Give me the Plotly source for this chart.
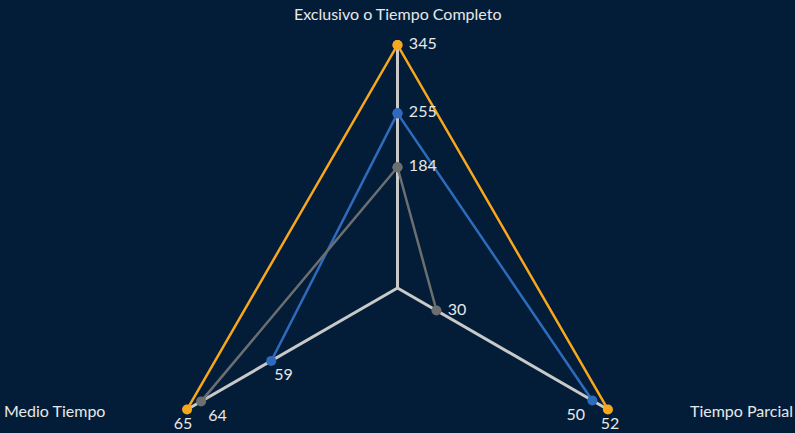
import plotly.graph_objects as go

# Axis categories (top, bottom-right, bottom-left)
categorias = ["Exclusivo o Tiempo Completo", "Tiempo Parcial", "Medio Tiempo"]
angulos = [90, -30, 210]

# Per-axis scale (each spoke has its own range)
eje_min = [25, 25, 50]
eje_max = [345, 52, 65]

# Series values in the same category order
serie_naranja = [345, 52, 65]
serie_azul = [255, 50, 59]
serie_gris = [184, 30, 64]

BG = "#031d39"
TXT = "#e8e8e8"
FONT = "Lato"
NB = "\u00a0"


def normalizar(valores):
    return [(v - lo) / (hi - lo) for v, lo, hi in zip(valores, eje_min, eje_max)]


def cerrar(lst):
    return list(lst) + [lst[0]]


# label placement per point: (textposition, leading pad, trailing pad)
series = [
    (serie_naranja, "#f8a71c",
     [("middle right", 1, 0), ("bottom center", 1, 0), ("bottom center", 0, 2)]),
    (serie_azul, "#2f6bbd",
     [("middle right", 1, 0), ("bottom left", 0, 0), ("bottom center", 6, 0)]),
    (serie_gris, "#6d6e70",
     [("middle right", 1, 0), ("middle right", 1, 0), ("bottom right", 0, 0)]),
]

fig = go.Figure()

for valores, color, colocacion in series:
    etiquetas = [NB * pre + str(v) + NB * post
                 for v, (_, pre, post) in zip(valores, colocacion)]
    posiciones = [p for p, _, _ in colocacion]
    fig.add_trace(go.Scatterpolar(
        r=cerrar(normalizar(valores)),
        theta=cerrar(angulos),
        mode="lines+markers+text",
        text=etiquetas + [""],
        textposition=posiciones + ["middle right"],
        textfont=dict(family=FONT, size=16, color=TXT),
        line=dict(color=color, width=2.5),
        marker=dict(color=color, size=10),
        cliponaxis=False,
        showlegend=False,
        hoverinfo="skip",
    ))

fig.update_layout(
    width=795,
    height=433,
    paper_bgcolor=BG,
    plot_bgcolor=BG,
    margin=dict(l=0, r=0, t=0, b=0),
    font=dict(family=FONT, color=TXT, size=16),
    polar=dict(
        bgcolor=BG,
        sector=[-30, 210],
        domain=dict(x=[0, 1], y=[(433 - 409.5) / 433, (433 - 45) / 433]),
        radialaxis=dict(range=[0, 1], visible=False, showgrid=False),
        angularaxis=dict(
            tickmode="array",
            tickvals=angulos,
            showticklabels=False,
            ticks="",
            showline=False,
            showgrid=True,
            gridcolor="#c9c9c9",
            gridwidth=2.5,
        ),
    ),
    annotations=[
        dict(text=categorias[0], x=0.5, y=1 - 14 / 433, xref="paper", yref="paper",
             showarrow=False, xanchor="center", yanchor="middle"),
        dict(text=categorias[1], x=795 / 795, y=1 - 410 / 433, xref="paper", yref="paper",
             showarrow=False, xanchor="right", yanchor="middle"),
        dict(text=categorias[2], x=2 / 795, y=1 - 410 / 433, xref="paper", yref="paper",
             showarrow=False, xanchor="left", yanchor="middle"),
    ],
)

fig.write_html("out.html", config={"displayModeBar": False},
               post_script="document.body.style.margin='0';")
